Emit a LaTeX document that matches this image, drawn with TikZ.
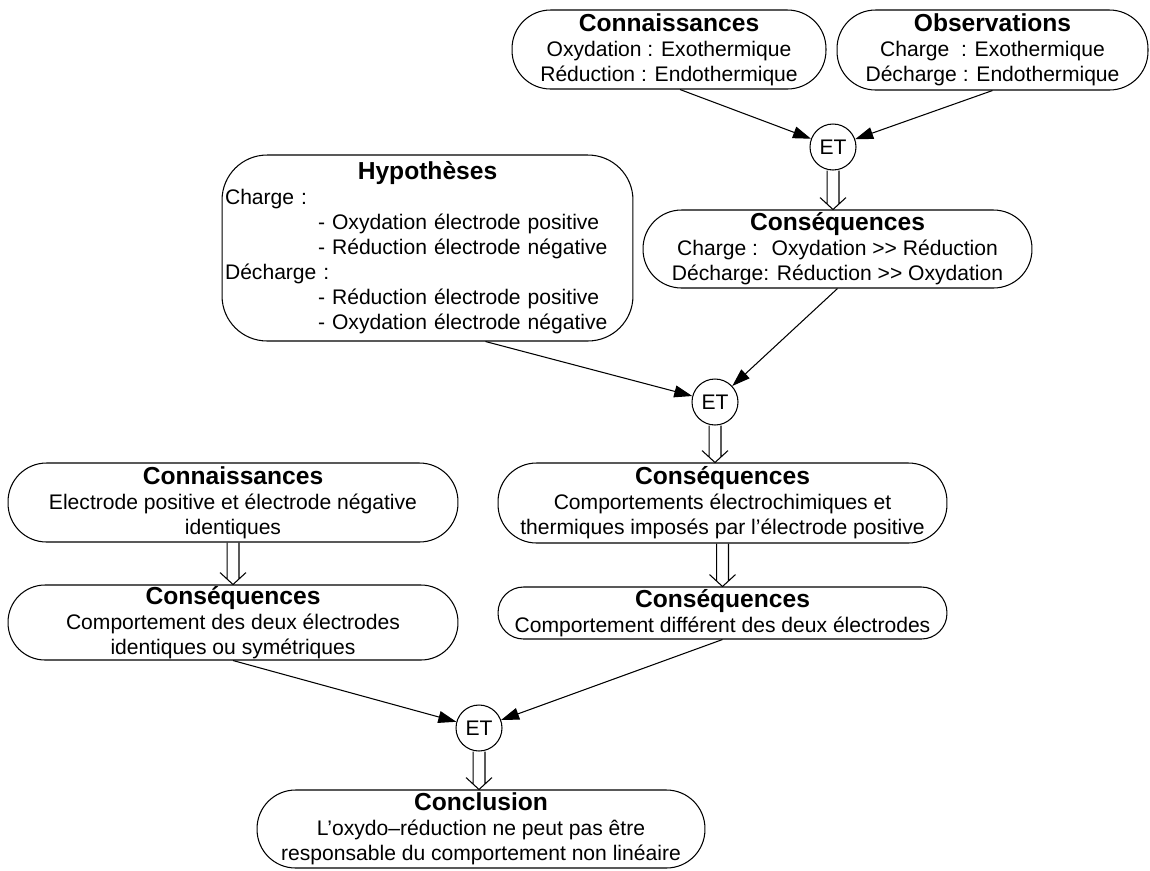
\documentclass[tikz,border=0pt]{standalone}
\usepackage{fontspec}
\setmainfont{Liberation Sans}
\usepackage{tikz}
\usetikzlibrary{arrows.meta}
\usetikzlibrary{calc}

\newcommand{\titre}[1]{{\fontsize{14}{14.2}\selectfont\bfseries #1}}
% open double arrow between two nodes (vertical)
\newcommand{\dblarrow}[2]{%
	\draw let \p1=(#1.south), \p2=(#2.north) in
	(\x1-3.4pt,\y1) -- (\x1-3.4pt,\y2+3.1pt)
	(\x1+3.4pt,\y1) -- (\x1+3.4pt,\y2+3.1pt)
	(\x1-7.4pt,\y2+6.8pt) -- (\x1,\y2) -- (\x1+7.4pt,\y2+6.8pt);}

\begin{document}
\begin{tikzpicture}[x=0.02cm,y=-0.02cm,line width=0.6pt,
	boite/.style={draw,rounded corners=0.77cm,inner sep=0pt,align=center,
		font=\fontsize{12}{14.2}\selectfont},
	et/.style={draw,circle,minimum size=0.92cm,inner sep=0pt,
		font=\fontsize{12}{14.2}\selectfont},
	fleche/.style={-{Triangle[length=0.36cm,width=0.24cm]}}]
	
	\useasboundingbox (0,0) rectangle (1150,870);
	
	% Top row
	\node[boite,minimum width=6.28cm,minimum height=1.58cm] (conn1) at (669,49.5) {%
		\titre{Connaissances}\\
		Oxydation : Exothermique\\
		Réduction : Endothermique};
	\node[boite,minimum width=6.22cm,minimum height=1.6cm] (obs) at (992.5,50) {%
		\titre{Observations}\\
		Charge~~: Exothermique\\
		Décharge : Endothermique};
	\node[et] (et1) at (833,147) {ET};
	
	\draw[fleche] ([xshift=0.22cm]conn1.south) -- (et1);
	\draw[fleche] (obs.south) -- (et1);
	
	% Second level
	\node[boite,minimum width=7.78cm,minimum height=1.56cm] (cons1) at (837.5,249) {%
		\titre{Conséquences}\\
		Charge :~ Oxydation >{}> Réduction\\
		Décharge: Réduction >{}> Oxydation};
	\dblarrow{et1}{cons1}
	
	\node[boite,rounded corners=0.9cm,align=left,text width=8.1cm,minimum width=8.22cm,minimum height=3.72cm] (hyp) at (427.5,248) {%
		\makebox[\linewidth]{\titre{Hypothèses}}\\
		Charge :\\
		\hspace*{1.86cm}- Oxydation électrode positive\\
		\hspace*{1.86cm}- Réduction électrode négative\\
		Décharge :\\
		\hspace*{1.86cm}- Réduction électrode positive\\
		\hspace*{1.86cm}- Oxydation électrode négative};
	
	\node[et] (et2) at (715,402) {ET};
	\draw[fleche] ([xshift=1.16cm]hyp.south) -- (et2);
	\draw[fleche] (cons1.south) -- (et2);
	
	% Third level
	\node[boite,minimum width=9cm,minimum height=1.58cm] (conn2) at (233,502.5) {%
		\titre{Connaissances}\\
		Electrode positive et électrode négative\\
		identiques};
	\node[boite,minimum width=8.98cm,minimum height=1.6cm] (cons2) at (722.5,503) {%
		\titre{Conséquences}\\
		Comportements électrochimiques et\\
		thermiques imposés par l’électrode positive};
	\dblarrow{et2}{cons2}
	
	\node[boite,rounded corners=0.51cm,minimum width=8.98cm,minimum height=1.04cm] (cons4) at (722.5,613) {%
		\titre{Conséquences}\\
		Comportement différent des deux électrodes};
	\node[boite,rounded corners=0.74cm,minimum width=9cm,minimum height=1.5cm] (cons3) at (233,622.5) {%
		\titre{Conséquences}\\
		Comportement des deux électrodes\\
		identiques ou symétriques};
	\dblarrow{conn2}{cons3}
	\dblarrow{cons2}{cons4}
	
	% Conclusion
	\node[et] (et3) at (479,728) {ET};
	\draw[fleche] (cons3.south) -- (et3);
	\draw[fleche] (cons4.south) -- (et3);
	
	\node[boite,minimum width=8.96cm,minimum height=1.56cm] (concl) at (481,829) {%
		\titre{Conclusion}\\
		L’oxydo–réduction ne peut pas être\\
		responsable du comportement non linéaire};
	\dblarrow{et3}{concl}
	
\end{tikzpicture}
\end{document}
